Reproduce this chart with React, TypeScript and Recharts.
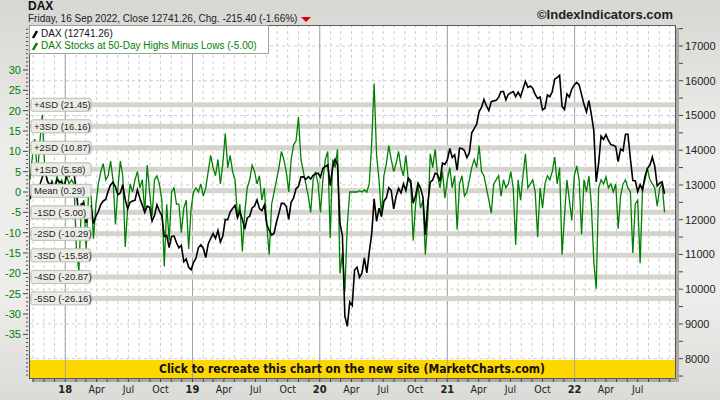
import React from "react";
import {
  ComposedChart,
  Line,
  XAxis,
  YAxis,
  CartesianGrid,
  ReferenceLine,
  ReferenceArea,
} from "recharts";

// weekly closes (Fridays), starting 22 Sep 2017
const firstWeek = Date.UTC(2017, 8, 22);

const dax2017 = [12590, 12830, 12955, 12990, 12990, 13220, 13480, 13130, 13000, 13060, 12860, 13150, 13100, 13070, 12920];
const dax2018 = [
  13320, 13250, 13430, 13340, 12790, 12110, 12450, 12480, 11910, 12350, 12390, 11890, 12100,
  12240, 12440, 12540, 12580, 12820, 13000, 13080, 12940, 12720, 12770, 13010, 12580, 12310,
  12500, 12540, 12560, 12860, 12620, 12420, 12210, 12390, 12360, 11960, 12120, 12430, 12250,
  12110, 11520, 11550, 11200, 11520, 11530, 11340, 11190, 11260, 10790, 10870, 10630, 10560,
];
const dax2019 = [
  10770, 10890, 11200, 11280, 11180, 10910, 11300, 11460, 11600, 11460, 11690, 11360, 11530,
  12010, 12000, 12220, 12320, 12410, 12060, 12240, 12010, 11730, 12050, 12100, 12340, 12400,
  12570, 12320, 12260, 12420, 11870, 11690, 11560, 11610, 11940, 12190, 12470, 12470, 12380,
  12010, 12510, 12630, 12890, 12960, 13230, 13240, 13160, 13240, 13170, 13280, 13320, 13340,
];
const dax2020 = [
  13220, 13480, 13530, 13580, 12980, 13510, 13740, 13580, 11890, 11540, 9230, 8930, 9630,
  9530, 10560, 10630, 10340, 10460, 10900, 10470, 11070, 11590, 12600, 11950, 12330, 12090,
  12530, 12630, 12920, 12840, 12310, 12670, 12900, 12770, 13030, 12840, 13200, 13120, 12470,
  12690, 13050, 12910, 12650, 11560, 12480, 13080, 13140, 13340, 13300, 13110, 13630, 13590,
];
const dax2021 = [
  13720, 14050, 13790, 13870, 13430, 14060, 14050, 13990, 13790, 13920, 14500, 14620, 14750,
  15110, 15230, 15460, 15280, 15140, 15400, 15420, 15440, 15520, 15690, 15690, 15450, 15610,
  15650, 15690, 15540, 15670, 15540, 15760, 15980, 15810, 15850, 15780, 15610, 15490, 15530,
  15160, 15210, 15590, 15540, 15690, 16050, 16090, 16160, 15260, 15170, 15620, 15530, 15760, 15880,
];
const dax2022 = [
  15950, 15880, 15600, 15320, 15100, 15430, 15040, 14570, 13090, 13630, 14410, 14310,
  14450, 14280, 14160, 14140, 14100, 13670, 14030, 13980, 14460, 14460, 13760, 13130, 13120,
  12810, 13010, 12860, 13250, 13480, 13570, 13800, 13540, 12970, 13050, 13090, 12741.26,
];

const hl2017 = [3, 9, 13, 4, 12, 19, 6, 3, 1, 3, 0, 4, 2, 3, 1];
const hl2018 = [
  4, 2, 3, 2, -14, -19.5, -4, -2, -14, 0, -1, -11.5, -3,
  2, 5, 7, 3, 4, 7.6, 3, -8, 1, 7.6, 4, -13.5, -4,
  2, 0, 3, 5, 1, 3, -5, 6.6, 0, -6, 3, 4, 2,
  -2, -18.3, -3, -12, 0, 1, -3, -3, -10, -4, -2, -14, -4,
];
const hl2019 = [
  0, 1, 0, 2, -1, 1, 5, 9, 6, 4, 8, 2, 7,
  14.4, 6, 9, 5, 3, -6, -3, -14.6, -5, 1, 3, 6.6, 5,
  2, 4, -2, 1, -8, -15.4, -3, 0, 3, 6, 10, 8, 5,
  0, 8, 11.6, 12.6, 18.4, 8, 5, 2, -1, -5, 3, 5, 2,
];
const hl2020 = [
  -5, 3, 8, 10, -11.3, 8, 6, 10.5, -20, -15, -24.5, -8, 0,
  0, 0, 0, 0.3, 0, 0.5, 0, 2, 12, 26.7, 9, 3, -6,
  4, 7, 11.4, 8, 5, 7, 10, 6, 4, 9, 3, 2, -12,
  -3, 2, -4, -2, -15.4, -6, 9.4, 6, 10.5, 4, 1, 5, -1.5,
];
const hl2021 = [
  3, 6, 1, 4, -9.2, 2, 4, -1, 0, 3, 6, 8, 6,
  11.4, 5, 4, 1, -2, -5.2, 2, 3, 4, -1, 3, 1, 2,
  5, 1, -13, 3, -2, 4, 9.4, 1, 2, 3, 0, -11.1, 1,
  -4, 2, 4, 3, 5, 8.6, 2, 6, -15.4, -6, 3, -2, -7, 4,
];
const hl2022 = [
  6.4, 3, -10.4, 3, 0, 4, -3, -17, -23.8, 1, 3, 2,
  3.7, 1, 2, 0, 2, -9, -1, 2, 3, 1, 0, -15, -3,
  -2, -17.5, 1, 3, 5.8, 3, 2, 1, -3.5, 1, 2, -5,
];

const daxClose = [...dax2017, ...dax2018, ...dax2019, ...dax2020, ...dax2021, ...dax2022];
const highsMinusLows = [...hl2017, ...hl2018, ...hl2019, ...hl2020, ...hl2021, ...hl2022];

const sdNames = ["+4SD", "+3SD", "+2SD", "+1SD", "Mean", "-1SD", "-2SD", "-3SD", "-4SD", "-5SD"];
const sdValues = [21.45, 16.16, 10.87, 5.58, 0.29, -5.0, -10.29, -15.58, -20.87, -26.16];

const leftLabels = [-35, -30, -25, -20, -15, -10, -5, 0, 5, 10, 15, 20, 25, 30];
const rightLabels = [8000, 9000, 10000, 11000, 12000, 13000, 14000, 15000, 16000, 17000];
const quarterNames: Record<number, string> = { 3: "Apr", 6: "Jul", 9: "Oct" };
const yearStarts = [2018, 2019, 2020, 2021, 2022];

const DAY = 86400000;
const data = daxClose.map((v, i) => ({
  t: firstWeek + i * 7 * DAY,
  dax: v,
  hl: highsMinusLows[i],
}));

const monthTicks: number[] = [];
for (let y = 2017; y <= 2022; y++) {
  for (let m = 0; m < 12; m++) {
    const t = Date.UTC(y, m, 1);
    if (t >= Date.UTC(2017, 9, 1) && t <= Date.UTC(2022, 9, 1)) monthTicks.push(t);
  }
}
const firstLabel = Date.UTC(2018, 0, 1);
const lastLabel = Date.UTC(2022, 6, 1);

const leftMinor: number[] = [];
for (let v = -45; v <= 40; v++) leftMinor.push(v);
const rightMinor: number[] = [];
for (let v = 7500; v <= 17500; v += 500) rightMinor.push(v);

const narrow = "'DejaVu Sans Condensed', 'Liberation Sans Narrow', 'Liberation Sans', sans-serif";
const sans = "'Liberation Sans', Arial, sans-serif";

function XTick({ x, y, payload }: any) {
  const t = payload.value;
  if (t < firstLabel || t > lastLabel) return null;
  const d = new Date(t);
  const m = d.getUTCMonth();
  const isYear = m === 0;
  const label = isYear ? String(d.getUTCFullYear()).slice(2) : quarterNames[m] || "";
  return (
    <text x={x} y={y + 11} textAnchor="middle" fontFamily={narrow} fontSize={isYear ? 11 : 10.5}
      fontWeight={isYear ? "bold" : "normal"} fill="#222">
      {label}
    </text>
  );
}

function LeftTick({ x, y, payload }: any) {
  const v = payload.value;
  const major = leftLabels.includes(v);
  return (
    <g>
      <line x1={x - 1} x2={x - (major ? 6 : 3)} y1={y} y2={y} stroke="#444" />
      {major && (
        <text x={x - 8} y={y + 4} textAnchor="end" fontFamily={sans} fontSize={11} fill="#008000">
          {v}
        </text>
      )}
    </g>
  );
}

function RightTick({ x, y, payload }: any) {
  const v = payload.value;
  const major = rightLabels.includes(v);
  return (
    <g>
      <line x1={x + 4} x2={x + 8} y1={y} y2={y} stroke="#444" />
      {major && (
        <text x={x + 10} y={y + 4} textAnchor="start" fontFamily={sans} fontSize={11} fill="#222">
          {v}
        </text>
      )}
    </g>
  );
}

const sdLabel = (text: string) => (props: any) => {
  const vb = props.viewBox || {};
  const x = (vb.x ?? 29) + 2;
  const y = vb.y ?? 0;
  return (
    <g>
      <rect x={x} y={y - 6.5} width={60} height={13} rx={2} fill="#ecece6" stroke="#bcbcb4" />
      <text x={x + 3} y={y + 3.5} fontFamily={sans} fontSize={9.5} fill="#222">
        {text}
      </text>
    </g>
  );
};

export default function App() {
  return (
    <div
      style={{
        position: "relative",
        width: 720,
        height: 400,
        background: "linear-gradient(to bottom, #d6d6d2 0%, #ececea 35%, #ededeb 75%, #dadad6 100%)",
        fontFamily: sans,
        overflow: "hidden",
      }}
    >
      <style>{"body{margin:0}"}</style>
      <div style={{ position: "absolute", left: 32, top: 28, width: 647, height: 354, background: "#a9a9a5" }} />
      <div style={{ position: "absolute", left: 29, top: 25, width: 647, height: 354, background: "#fff" }} />
      <div style={{ position: "absolute", left: 0, top: 0 }}>
        <ComposedChart width={720} height={400} data={data} margin={{ top: 25, right: 0, bottom: 0, left: 0 }}>
          <CartesianGrid vertical horizontal={false} stroke="#cdcdcd" strokeDasharray="3 3" yAxisId="right" />
          <XAxis
            dataKey="t"
            type="number"
            domain={[Date.UTC(2017, 8, 19), Date.UTC(2022, 9, 16)]}
            allowDataOverflow
            ticks={monthTicks}
            interval={0}
            height={22}
            tick={<XTick />}
            tickSize={4}
            tickMargin={0}
            tickLine={{ stroke: "#444" }}
            axisLine={false}
          />
          <YAxis
            yAxisId="left"
            orientation="left"
            width={29}
            domain={[-45.73, 41.06]}
            allowDataOverflow
            ticks={leftMinor}
            interval={0}
            tick={<LeftTick />}
            tickLine={false}
            tickSize={0}
            tickMargin={0}
            axisLine={false}
          />
          <YAxis
            yAxisId="right"
            orientation="right"
            width={45}
            domain={[7444, 17604]}
            allowDataOverflow
            ticks={rightMinor}
            interval={0}
            tick={<RightTick />}
            tickLine={false}
            tickSize={0}
            tickMargin={0}
            axisLine={false}
          />
          {rightLabels.map((v) => (
            <ReferenceLine key={"h" + v} yAxisId="right" y={v} stroke="#cdcdcd" strokeDasharray="3 3" />
          ))}
          {yearStarts.map((yr) => (
            <ReferenceLine key={"y" + yr} yAxisId="right" x={Date.UTC(yr, 0, 1)} stroke="#a4a4a4" />
          ))}
          {sdValues.map((v, i) => (
            <ReferenceLine key={"sd" + i} yAxisId="left" y={v} stroke="#d5d5cd" strokeWidth={5} />
          ))}
          <ReferenceArea
            yAxisId="right"
            y1={7444}
            y2={7963}
            fill="#ffd700"
            fillOpacity={1}
            stroke="none"
            label={{
              value: "Click to recreate this chart on the new site (MarketCharts.com)",
              position: "center",
              fill: "#111",
              fontSize: 12,
              fontWeight: "bold",
              fontFamily: narrow,
            }}
          />
          <Line yAxisId="left" dataKey="hl" stroke="#008000" strokeWidth={1.3} dot={false} isAnimationActive={false} />
          <Line yAxisId="right" dataKey="dax" stroke="#000" strokeWidth={1.6} dot={false} isAnimationActive={false} />
          {sdValues.map((v, i) => (
            <ReferenceLine
              key={"sdl" + i}
              yAxisId="left"
              y={v}
              stroke="none"
              zIndex={2000}
              label={sdLabel(`${sdNames[i]} (${v.toFixed(2)})`)}
            />
          ))}
        </ComposedChart>
      </div>
      <div
        style={{
          position: "absolute",
          left: 29,
          top: 25,
          width: 647,
          height: 354,
          boxSizing: "border-box",
          border: "1px solid #5a5a5a",
          pointerEvents: "none",
        }}
      />
      <div style={{ position: "absolute", left: 28, top: 0, fontSize: 12, lineHeight: "13.4px", fontWeight: "bold", color: "#111" }}>
        DAX
      </div>
      <div
        style={{
          position: "absolute",
          left: 28,
          top: 13.4,
          fontSize: 10,
          lineHeight: "11.5px",
          color: "#222",
          whiteSpace: "nowrap",
          display: "flex",
          alignItems: "center",
        }}
      >
        <span>Friday, 16 Sep 2022, Close 12741.26, Chg. -215.40 (-1.66%)</span>
        <svg width={12} height={8} style={{ marginLeft: 4, marginTop: 1 }}>
          <polygon points="0,1 10,1 5,6" fill="#e00000" />
        </svg>
      </div>
      <div style={{ position: "absolute", right: 47, top: 8, fontSize: 13, lineHeight: "14px", fontWeight: "bold", color: "#222", whiteSpace: "nowrap" }}>
        ©IndexIndicators.com
      </div>
      <div
        style={{
          position: "absolute",
          left: 29,
          top: 25,
          width: 240,
          height: 29,
          background: "#fff",
          border: "1px solid #a0a0a0",
          boxSizing: "border-box",
          fontSize: 10,
          lineHeight: "12px",
          paddingTop: 2,
          whiteSpace: "nowrap",
        }}
      >
        <div style={{ display: "flex", alignItems: "center", color: "#111" }}>
          <svg width={11} height={10}><line x1={3} y1={9} x2={7} y2={2} stroke="#000" strokeWidth={2.5} /></svg>
          <span>DAX (12741.26)</span>
        </div>
        <div style={{ display: "flex", alignItems: "center", color: "#008000" }}>
          <svg width={11} height={10}><line x1={3} y1={9} x2={7} y2={2} stroke="#008000" strokeWidth={2.5} /></svg>
          <span>DAX Stocks at 50-Day Highs Minus Lows (-5.00)</span>
        </div>
      </div>
    </div>
  );
}
